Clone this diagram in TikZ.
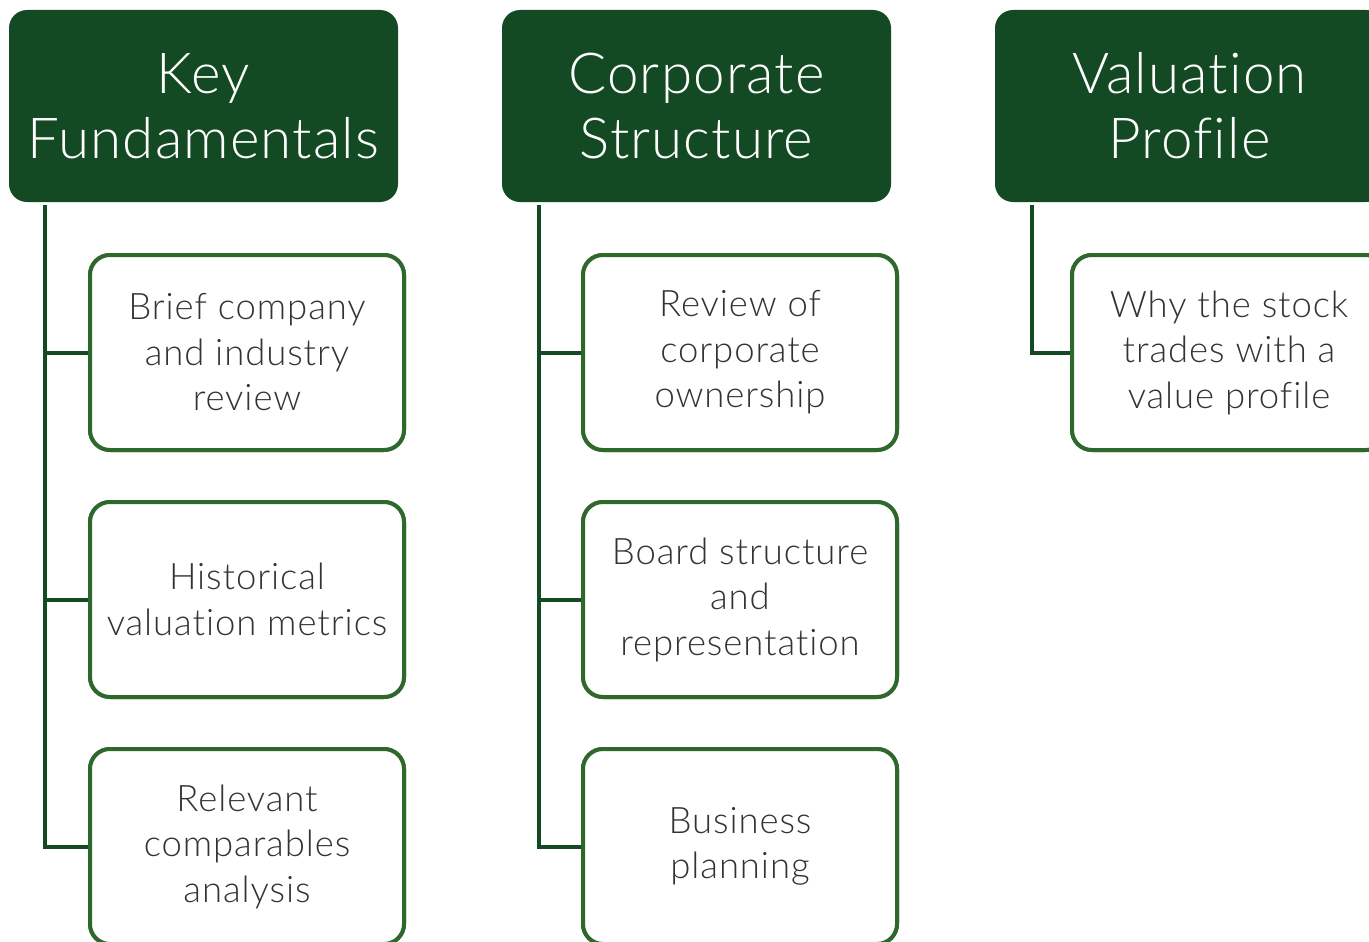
\documentclass[tikz,border=0pt]{standalone}
\usepackage{fontspec}
\setmainfont{Lato Light}[Ligatures=NoCommon]
\definecolor{hdr}{RGB}{20,74,35}
\definecolor{bord}{RGB}{47,104,44}
\definecolor{txt}{RGB}{51,51,51}
\tikzset{
  hdrbox/.style={fill=hdr, rounded corners=18pt, minimum width=389pt, minimum height=192pt, inner sep=0pt, text=white, align=center, font=\fontsize{56.5}{65}\selectfont\addfontfeatures{LetterSpace=2}},
  childbox/.style={draw=bord, line width=4pt, fill=white, rounded corners=20pt, minimum width=314pt, minimum height=195pt, inner sep=0pt, text=txt, align=center, font=\fontsize{36.5}{45.5}\selectfont\addfontfeatures{LetterSpace=2.5}},
  conn/.style={draw=hdr, line width=4pt}
}
\begin{document}
\begin{tikzpicture}[x=1pt,y=-1pt]
\useasboundingbox (0,0) rectangle (1369,942);
\clip (0,0) rectangle (1369,942);
% headers
\node[hdrbox] (h1) at (203.5,106) {Key\\Fundamentals};
\node[hdrbox] (h2) at (696.5,106) {Corporate\\Structure};
\node[hdrbox] (h3) at (1189.5,106) {Valuation\\Profile};
% children
\node[childbox] (c11) at (247,352.5) {Brief company\\and industry\\review};
\node[childbox] (c12) at (247,599.5) {Historical\\valuation metrics};
\node[childbox] (c13) at (247,846.5) {Relevant\\comparables\\analysis};
\node[childbox] (c21) at (740,352.5) {Review of\\corporate\\ownership};
\node[childbox] (c22) at (740,599.5) {Board structure\\and\\representation};
\node[childbox] (c23) at (740,846.5) {Business\\planning};
\node[childbox] (c31) at (1229,352.5) {Why the stock\\trades with a\\value profile};
% trunk start points
\coordinate (v1) at (45,205);
\coordinate (v2) at (539,205);
\coordinate (v3) at (1032,205);
% connectors
\draw[conn] (v1) |- (c13.west);
\draw[conn] (c11.west -| v1) -- (c11.west);
\draw[conn] (c12.west -| v1) -- (c12.west);
\draw[conn] (v2) |- (c23.west);
\draw[conn] (c21.west -| v2) -- (c21.west);
\draw[conn] (c22.west -| v2) -- (c22.west);
\draw[conn] (v3) |- (c31.west);
% redraw boxes on top of connector ends
\node[childbox] at (c11) {Brief company\\and industry\\review};
\node[childbox] at (c12) {Historical\\valuation metrics};
\node[childbox] at (c13) {Relevant\\comparables\\analysis};
\node[childbox] at (c21) {Review of\\corporate\\ownership};
\node[childbox] at (c22) {Board structure\\and\\representation};
\node[childbox] at (c23) {Business\\planning};
\node[childbox] at (c31) {Why the stock\\trades with a\\value profile};
\end{tikzpicture}
\end{document}
